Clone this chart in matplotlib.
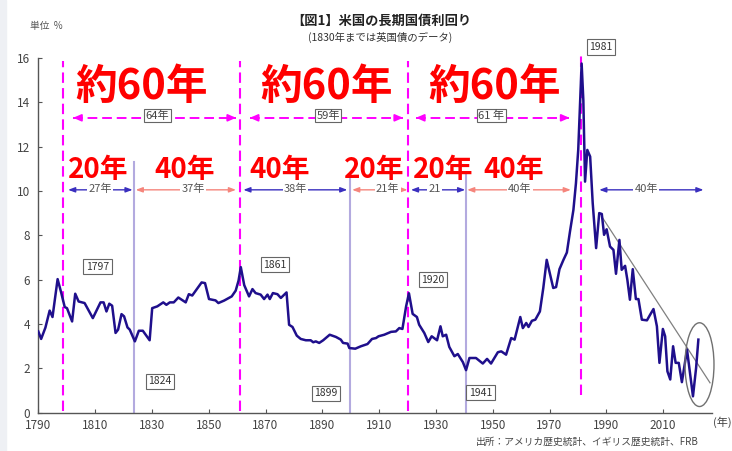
import matplotlib
matplotlib.use("Agg")
import matplotlib.pyplot as plt
from matplotlib.patches import Ellipse, Rectangle

plt.rcParams['font.family'] = ['Noto Sans CJK JP', 'DejaVu Sans']

# ---- data ----
years = [1790, 1791, 1792.5, 1794, 1795, 1796.8, 1798.1, 1799.3, 1800.1, 1801.9, 1803, 1804.2,
         1806.3, 1809.2, 1811.9, 1813, 1814, 1815, 1816, 1817.2, 1818.1, 1819.3, 1820.2, 1821.4,
         1822.2, 1824, 1825.4, 1826.8, 1829.2, 1830.1, 1831.9, 1834, 1835.1, 1836.3, 1837.7,
         1839.3, 1841.9, 1843, 1844.2, 1847.5, 1848.7, 1850.1, 1852.4, 1853.4, 1855.4, 1858.1,
         1859.5, 1860.5, 1861.3, 1862.5, 1864.2, 1865.4, 1866.5, 1868.3, 1869.5, 1870.7, 1871.5,
         1872.6, 1874.2, 1875.4, 1877.4, 1878.3, 1879.5, 1881, 1882.4, 1884.2, 1885.9, 1886.8,
         1887.7, 1888.9, 1890.3, 1892.6, 1894.8, 1896.5, 1897.3, 1898.9, 1899.5, 1901.6, 1903.6,
         1905.9, 1907.5, 1908.9, 1909.8, 1911.8, 1914.2, 1915.9, 1917.1, 1918.2, 1919.5, 1920.5,
         1921.8, 1923.3, 1924.1, 1925.9, 1927.3, 1928.5, 1930.4, 1931.6, 1932.4, 1933.6, 1934.7,
         1936.5, 1937.7, 1939.5, 1940.6, 1941.8, 1944.1, 1946.5, 1948, 1949.4, 1951.8, 1953,
         1954.7, 1956.5, 1957.7, 1959.7, 1960.6, 1961.8, 1962.6, 1963.8, 1965, 1966.6, 1967.8,
         1969.0, 1971.3, 1972.3, 1973.5, 1974.9, 1976.1, 1977.2, 1978.4, 1979.3, 1980.1, 1981.3,
         1981.9, 1982.5, 1983.3, 1984.3, 1985.2, 1986.4, 1987.5, 1988.4, 1989.2, 1990.1, 1991.3,
         1992.5, 1993.4, 1994.6, 1995.4, 1996.6, 1997.4, 1998.3, 1999.3, 2000.4, 2001.3, 2002.5,
         2004.3, 2005.4, 2006.6, 2007.8, 2008.7, 2009.9, 2010.7, 2011.5, 2012.5, 2013.5, 2014.4,
         2015.5, 2016.6, 2018.4, 2019.3, 2020.5, 2021.6, 2022.4]
yields = [3.66, 3.32, 3.83, 4.6, 4.31, 6.02, 5.39, 4.76, 4.71, 4.11, 5.36, 5.01,
          4.94, 4.26, 4.97, 4.97, 4.56, 4.91, 4.82, 3.59, 3.74, 4.44, 4.34, 3.84,
          3.74, 3.21, 3.69, 3.69, 3.26, 4.71, 4.79, 4.97, 4.86, 4.97, 4.97,
          5.19, 4.97, 5.34, 5.28, 5.87, 5.84, 5.12, 5.06, 4.94, 5.05, 5.24,
          5.5, 5.95, 6.56, 5.75, 5.24, 5.57, 5.39, 5.32, 5.12, 5.32, 5.12,
          5.39, 5.34, 5.17, 5.42, 3.96, 3.86, 3.47, 3.32, 3.26, 3.26, 3.17,
          3.21, 3.14, 3.26, 3.51, 3.41, 3.29, 3.14, 3.11, 2.91, 2.88, 2.99,
          3.09, 3.32, 3.36, 3.44, 3.51, 3.64, 3.66, 3.81, 3.77, 4.79, 5.38,
          4.45, 4.31, 3.96, 3.59, 3.18, 3.44, 3.26, 3.89, 3.44, 3.51, 2.96,
          2.54, 2.64, 2.27, 1.91, 2.46, 2.46, 2.21, 2.42, 2.21, 2.72, 2.76,
          2.61, 3.36, 3.29, 4.31, 3.81, 4.04, 3.86, 4.14, 4.19, 4.56, 5.62,
          6.89, 5.62, 5.66, 6.47, 6.89, 7.22, 8.17, 9.14, 10.35, 11.85, 15.75,
          14.1, 10.42, 11.85, 11.55, 9.45, 7.42, 9.0, 8.96, 8.02, 8.27, 7.49,
          7.34, 6.26, 7.79, 6.44, 6.62, 5.99, 5.09, 6.47, 5.12, 5.12, 4.19,
          4.16, 4.41, 4.67, 3.89, 2.24, 3.77, 3.44, 1.86, 1.49, 2.99, 2.24,
          2.24, 1.37, 2.84, 1.94, 0.73, 2.01, 3.29]

cycle_lines = [1798.7, 1861.0, 1920.3, 1981.2]          # magenta dashed
turn_lines = [1823.7, 1899.8, 1940.5]                   # light purple
turn_tops = [11.3, 10.6, 10.7]
year_boxes = ["1797", "1824", "1861", "1899", "1920", "1941", "1981"]
year_box_pos = [(1810.8, 6.58), (1832.9, 1.40), (1873.4, 6.67), (1891.3, 0.86),
                (1929.0, 6.0), (1945.7, 0.9), (1988.1, 16.5)]

long_spans = [(1802.3, 1859.6), (1864.5, 1918.4), (1923.0, 1977.0)]
long_labels = ["64年", "59年", "61 年"]
long_label_x = [1832.0, 1892.0, 1949.5]

short_spans = [(1800.5, 1823.2), (1824.3, 1859.6), (1862.2, 1898.8), (1900.5, 1920.0),
               (1921.2, 1940.3), (1941.0, 1977.5), (1987.5, 2024.2)]
short_labels = ["27年", "37年", "38年", "21年", "21", "40年", "40年"]
short_label_x = [1811.7, 1844.5, 1880.5, 1913.0, 1929.5, 1959.5, 2004.0]
short_colors = ["#3a2fbf", "#f5857c", "#3a2fbf", "#f5857c", "#3a2fbf", "#f5857c", "#3a2fbf"]

big_labels = ["約60年", "約60年", "約60年"]
big_x = [1826.5, 1891.4, 1950.7]
mid_labels = ["20年", "40年", "40年", "20年", "20年", "40年"]
mid_x = [1811.1, 1841.6, 1874.8, 1908.4, 1932.7, 1957.2]

trend_x = [1988.4, 2026.5]
trend_y = [8.84, 1.34]

# ---- figure ----
fig = plt.figure(figsize=(7.32, 4.51), dpi=100)
fig.patches.append(Rectangle((0, 0), 6 / 732, 1, transform=fig.transFigure,
                             color="#eef0f4", zorder=-10))
ax = fig.add_axes([38.3 / 732, 1 - 412.5 / 451, (712 - 38.3) / 732, (412.5 - 58) / 451])
ax.set_xlim(1790, 2027.2)
ax.set_ylim(0, 16)
for s in ["top", "right"]:
    ax.spines[s].set_visible(False)
for s in ["left", "bottom"]:
    ax.spines[s].set_color("#555555")
    ax.spines[s].set_linewidth(1.0)
ax.set_xticks(list(range(1790, 2011, 20)))
ax.set_yticks(list(range(0, 17, 2)))
ax.tick_params(direction="in", length=3, width=0.8, colors="#555555",
               labelsize=8.5, labelcolor="#444444")
ax.tick_params(axis="x", pad=5)
ax.tick_params(axis="y", pad=6)

# vertical lines
for xv in cycle_lines[:3]:
    ax.plot([xv, xv], [0.05, 15.85], color="#ff00ff", lw=1.5,
            linestyle=(0, (5, 2.5)), zorder=3)
ax.plot([cycle_lines[3], cycle_lines[3]], [0.8, 16.2], color="#ff00ff", lw=1.5,
        linestyle=(0, (5, 2.5)), zorder=3, clip_on=False)
for xv, top in zip(turn_lines, turn_tops):
    ax.plot([xv, xv], [0, top], color="#b3aadf", lw=1.5, zorder=2)

# main series
ax.plot(years, yields, color="#1f0f8c", lw=1.8, zorder=5, solid_joinstyle="round")

# trend line and ellipse
ax.plot(trend_x, trend_y, color="#808080", lw=0.9, zorder=4)
ax.add_patch(Ellipse((2022.8, 2.16), 10.2, 3.78, fill=False, edgecolor="#707070",
                     lw=1.0, zorder=6, clip_on=False))

# long (about 60 years) dashed arrows
for (x0, x1), lab, lx in zip(long_spans, long_labels, long_label_x):
    ax.plot([x0, x1], [13.3, 13.3], color="#ff00ff", lw=1.4, linestyle=(0, (5, 2.5)), zorder=3)
    ax.annotate("", xy=(x0, 13.3), xytext=(x0 + 2.5, 13.3),
                arrowprops=dict(arrowstyle="-|>,head_length=0.45,head_width=0.2",
                                color="#ff00ff", lw=1.4, shrinkA=0, shrinkB=0))
    ax.annotate("", xy=(x1, 13.3), xytext=(x1 - 2.5, 13.3),
                arrowprops=dict(arrowstyle="-|>,head_length=0.45,head_width=0.2",
                                color="#ff00ff", lw=1.4, shrinkA=0, shrinkB=0))
    ax.text(lx, 13.4, lab, ha="center", va="center", fontsize=8, color="#444444", zorder=7,
            bbox=dict(boxstyle="square,pad=0.15", fc="white", ec="#666666", lw=0.8))

# short arrows (20/40 years)
for (x0, x1), lab, lx, c in zip(short_spans, short_labels, short_label_x, short_colors):
    ax.annotate("", xy=(x1, 10.05), xytext=(x0, 10.05),
                arrowprops=dict(arrowstyle="<|-|>,head_length=0.4,head_width=0.15",
                                color=c, lw=1.0, shrinkA=0, shrinkB=0), zorder=3)
    ax.text(lx, 10.1, lab, ha="center", va="center", fontsize=8, color="#555555", zorder=7,
            bbox=dict(boxstyle="square,pad=0.1", fc="white", ec="none"))

# big red labels
for lab, bx in zip(big_labels, big_x):
    ax.text(bx, 14.7, lab, ha="center", va="center", fontsize=30, fontweight="bold",
            color="#ff0000", zorder=8)
for lab, mx in zip(mid_labels, mid_x):
    ax.text(mx, 10.95, lab, ha="center", va="center", fontsize=20, fontweight="bold",
            color="#ff0000", zorder=8)

# year boxes
for lab, (bx, by) in zip(year_boxes, year_box_pos):
    ax.text(bx, by, lab, ha="center", va="center", fontsize=7.5, color="#333333", zorder=9,
            clip_on=False,
            bbox=dict(boxstyle="square,pad=0.25", fc="white", ec="#666666", lw=0.8))

# titles and notes
fig.text(381 / 732, 1 - 21 / 451, "【図1】米国の長期国債利回り", ha="center", va="center",
         fontsize=9.5, fontweight="bold", color="#222222")
fig.text(380 / 732, 1 - 37 / 451, "(1830年までは英国債のデータ)", ha="center", va="center",
         fontsize=7.5, color="#333333")
fig.text(30 / 732, 1 - 26 / 451, "単位  %", ha="left", va="center", fontsize=7,
         color="#555555")
fig.text(713 / 732, 1 - 422 / 451, "(年)", ha="left", va="center", fontsize=8,
         color="#444444")
fig.text(699 / 732, 1 - 442 / 451, "出所：アメリカ歴史統計、イギリス歴史統計、FRB",
         ha="right", va="center", fontsize=7, color="#444444")

fig.savefig("out.png", dpi=100)
